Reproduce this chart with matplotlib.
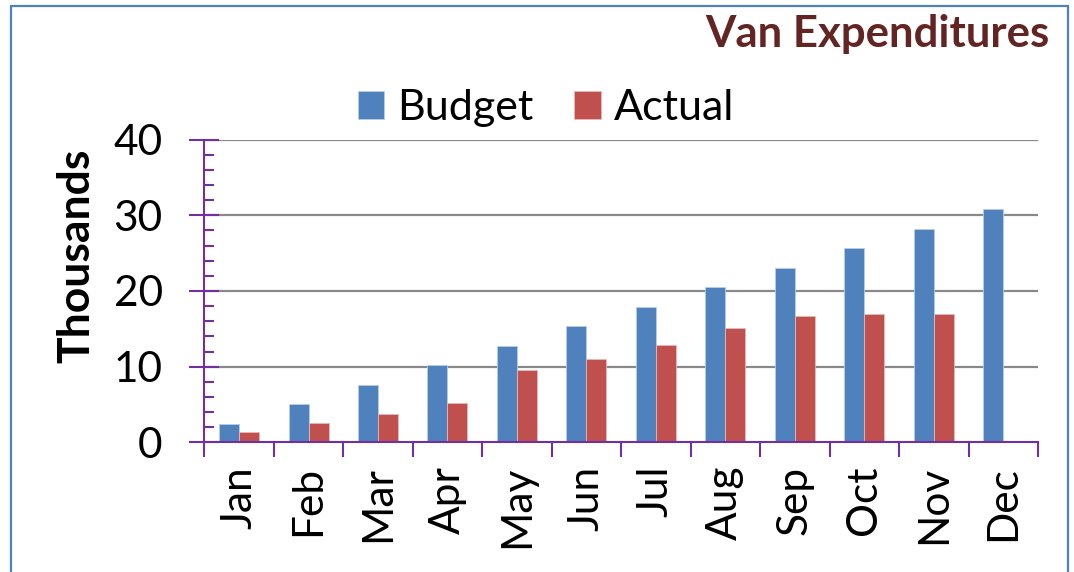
import matplotlib
matplotlib.use("Agg")
import matplotlib.pyplot as plt
import numpy as np
from matplotlib.patches import Rectangle
from matplotlib.ticker import MultipleLocator, FixedLocator, NullFormatter

months = ["Jan", "Feb", "Mar", "Apr", "May", "Jun", "Jul", "Aug", "Sep", "Oct", "Nov", "Dec"]
budget = [2.45, 5.0, 7.6, 10.2, 12.75, 15.35, 17.95, 20.55, 23.1, 25.65, 28.2, 30.8]
actual = [1.4, 2.55, 3.75, 5.15, 9.5, 11.05, 12.8, 15.1, 16.65, 17.0, 17.0, None]
series_names = ["Budget", "Actual"]
y_ticks = [0, 10, 20, 30, 40]

FONT = "Lato"
plt.rcParams['font.family'] = [FONT, 'DejaVu Sans']

BLUE = "#4F81BD"
RED = "#C0504D"
PURPLE = "#7030A0"
GRID = "#898989"

fig = plt.figure(figsize=(10.74, 5.72), dpi=100)
fig.patch.set_facecolor("white")

# figure border
fig.patches.append(Rectangle((11 / 1074, -0.05), (1068 - 11) / 1074, 1 - 6 / 572 + 0.05,
                             transform=fig.transFigure, fill=False,
                             edgecolor="#4F81BD", linewidth=1.6, zorder=0))

ax = fig.add_axes([204.3 / 1074, 129.7 / 572, (1038 - 204.3) / 1074, 302.6 / 572])
x = np.arange(len(months))
w = 0.288
bb = ax.bar(x - w / 2, budget, width=w, color=BLUE, edgecolor="#b9cde5", linewidth=0.6,
            label=series_names[0], zorder=3)
act_x = [xi + w / 2 for xi, v in zip(x, actual) if v is not None]
act_v = [v for v in actual if v is not None]
ba = ax.bar(act_x, act_v, width=w, color=RED, edgecolor="#e6b9b8", linewidth=0.6,
            label=series_names[1], zorder=3)

ax.set_xlim(-0.5, len(months) - 0.5)
ax.set_ylim(0, 40)

for s in ["top", "right"]:
    ax.spines[s].set_visible(False)
for s in ["left", "bottom"]:
    ax.spines[s].set_color(PURPLE)
    ax.spines[s].set_linewidth(1.5)
    ax.spines[s].set_zorder(4)

# gridlines
for yv in y_ticks[1:]:
    ax.axhline(yv, color=GRID, linewidth=1.6, zorder=1)

# y ticks
ax.yaxis.set_major_locator(FixedLocator(y_ticks))
ax.yaxis.set_minor_locator(MultipleLocator(2))
ax.tick_params(axis="y", which="major", direction="inout", length=22, width=1.5,
               color=PURPLE, labelsize=30.5, pad=19)
ax.tick_params(axis="y", which="minor", direction="in", length=7.5, width=1.5, color=PURPLE)

# x ticks: boundaries major, labels at centres
ax.xaxis.set_major_locator(FixedLocator(np.arange(-0.5, len(months), 1.0)))
ax.xaxis.set_major_formatter(NullFormatter())
ax.xaxis.set_minor_locator(FixedLocator(x))
ax.set_xticks(x, months, minor=True)
ax.tick_params(axis="x", which="major", direction="out", length=11, width=1.5, color=PURPLE)
ax.tick_params(axis="x", which="minor", length=0, labelsize=30.5, pad=17, labelrotation=90)

fig.text(76 / 1074, 1 - 255.5 / 572, "Thousands", rotation=90, fontsize=32,
         fontweight="bold", ha="center", va="center")

fig.text(1049 / 1074, 1 - 47 / 572, "Van Expenditures", fontsize=31.5, fontweight="bold",
         color="#632523", ha="right", va="baseline")

leg = fig.legend(handles=[bb, ba], labels=series_names, loc="center",
                 bbox_to_anchor=(546 / 1074, 1 - 108 / 572), ncol=2, frameon=False,
                 fontsize=31, handlelength=0.62, handleheight=0.62, handletextpad=0.3,
                 columnspacing=0.95, borderpad=0)

fig.savefig("out.png", dpi=100, facecolor="white")
